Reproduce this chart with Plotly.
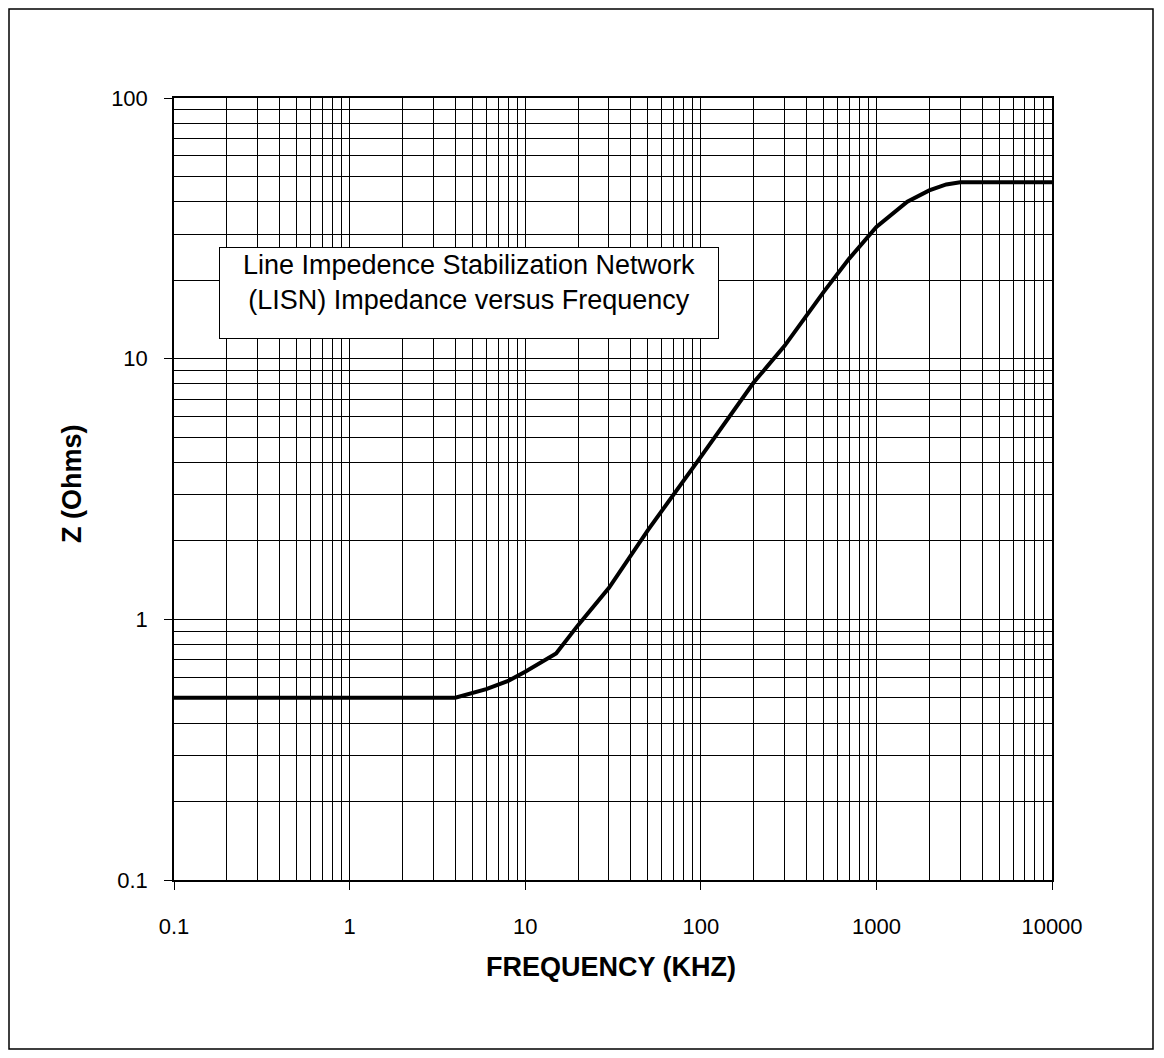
import plotly.graph_objects as go

# Data
freq_khz = [0.1, 1, 4, 6, 8, 10, 15, 20, 30, 50, 70, 100, 200, 300, 500, 700, 1000, 1500, 2000, 2500, 3000, 5000, 10000]
z_ohms   = [0.5, 0.5, 0.5, 0.54, 0.58, 0.63, 0.74, 0.95, 1.32, 2.2, 3.0, 4.2, 8.1, 11.2, 18.0, 24.2, 32.0, 40.0, 44.2, 46.6, 47.5, 47.5, 47.5]

x_major = [0.1, 1, 10, 100, 1000, 10000]
x_major_text = ["0.1", "1", "10", "100", "1000", "10000"]
y_major = [0.1, 1, 10, 100]
y_major_text = ["0.1", "1", "10", "100"]
mult = [2, 3, 4, 5, 6, 7, 8, 9]

x_minor = [d * m for d in x_major[:-1] for m in mult]
y_minor = [d * m for d in y_major[:-1] for m in mult]

title_text = "Line Impedence Stabilization Network<br>(LISN) Impedance versus Frequency"

FONT = "Liberation Sans, Arial, sans-serif"

# figure size accounts for the page's 8px body margin
W, H = 1148, 1042
OFF = 8
L, R, T, B = 166, 104, 90, 170
pw, ph = W - L - R, H - T - B


def px(xp):  # page pixel -> paper x
    return (xp - OFF - L) / pw


def py(yp):  # page pixel -> paper y
    return (H - B - (yp - OFF)) / ph


fig = go.Figure()
fig.add_trace(go.Scatter(x=freq_khz, y=z_ohms, mode="lines",
                         line=dict(color="black", width=4), showlegend=False))

axis_common = dict(
    showgrid=True, gridcolor="black", gridwidth=1,
    showline=True, linecolor="black", linewidth=1.5, mirror=True,
    ticks="outside", ticklen=8, tickcolor="black", tickwidth=1,
    tickfont=dict(family=FONT, size=22, color="black"),
    zeroline=False,
)

fig.update_xaxes(type="log", range=[-1, 4], tickvals=x_major, ticktext=x_major_text,
                 minor=dict(tickvals=x_minor, showgrid=True, gridcolor="black", gridwidth=1, ticks=""),
                 ticklabelstandoff=18,
                 **axis_common)
fig.update_yaxes(type="log", range=[-1, 2], tickvals=y_major, ticktext=y_major_text,
                 minor=dict(tickvals=y_minor, showgrid=True, gridcolor="black", gridwidth=1, ticks=""),
                 ticklabelstandoff=12,
                 **axis_common)

fig.add_annotation(x=px(469), y=py(293), xref="paper", yref="paper",
                   xanchor="center", yanchor="middle",
                   text=title_text, showarrow=False,
                   font=dict(family=FONT, size=27, color="black"),
                   align="center", valign="top", bgcolor="white", bordercolor="black",
                   borderwidth=1, borderpad=2, width=494, height=86)

fig.add_annotation(x=px(72), y=py(484), xref="paper", yref="paper",
                   xanchor="center", yanchor="middle",
                   text="<b>Z (Ohms)</b>", showarrow=False, textangle=-90,
                   font=dict(family=FONT, size=27, color="black"))

fig.add_annotation(x=px(611), y=py(967), xref="paper", yref="paper",
                   xanchor="center", yanchor="middle",
                   text="<b>FREQUENCY (KHZ)</b>", showarrow=False,
                   font=dict(family=FONT, size=27, color="black"))

fig.add_shape(type="rect", xref="paper", yref="paper",
              x0=px(9), x1=px(1153), y0=py(1049), y1=py(9),
              line=dict(color="black", width=1.5), fillcolor="rgba(0,0,0,0)", layer="below")

fig.update_layout(width=W, height=H, margin=dict(l=L, r=R, t=T, b=B),
                  paper_bgcolor="white", plot_bgcolor="white", showlegend=False)

fig.write_html("out.html")
